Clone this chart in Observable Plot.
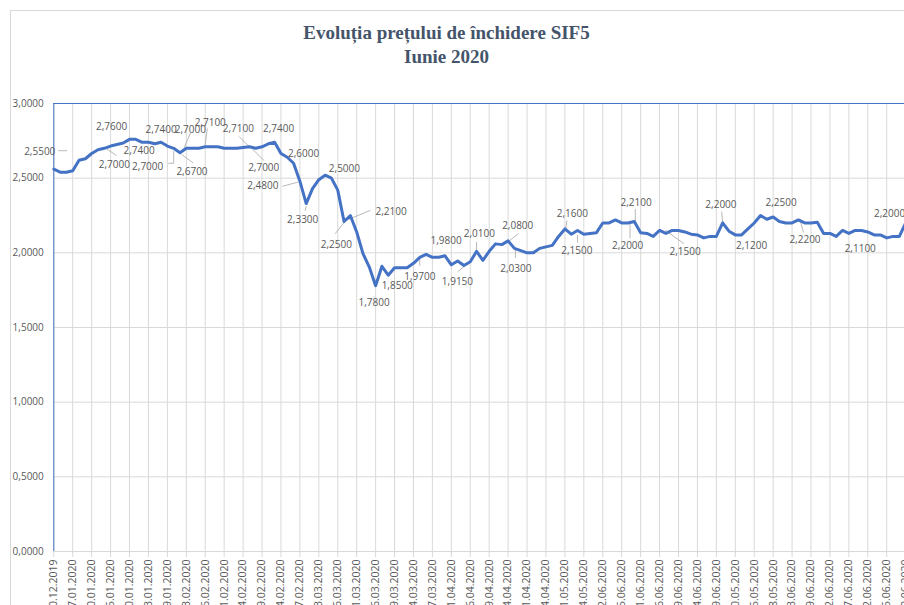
<!DOCTYPE html>
<html><head><meta charset="utf-8">
<script src="https://cdn.jsdelivr.net/npm/d3@7"></script>
<script src="https://cdn.jsdelivr.net/npm/@observablehq/plot@0.6"></script>
<style>
html,body{margin:0;padding:0;background:#fff;overflow:hidden;}
#wrap{position:relative;width:904px;height:605px;overflow:hidden;background:#fff;}
#frame{position:absolute;left:10px;top:10px;width:1000px;height:700px;border-left:1px solid #d9d9d9;border-top:1px solid #d9d9d9;}
#title{position:absolute;left:0;top:21px;width:893px;text-align:center;font-family:"Liberation Serif","Times New Roman",serif;font-weight:bold;font-size:19px;line-height:24px;color:#44546A;}
#chart{position:absolute;left:0;top:70px;width:960px;}
#chart svg{max-width:none !important;}
</style></head>
<body>
<div id="wrap">
  <div id="frame"></div>
  <div id="title">Evoluția prețului de închidere SIF5<br>Iunie 2020</div>
  <div id="chart"></div>
</div>
<script>
// ---- data ----
const tickLabels = [
  "30.12.2019","07.01.2020","10.01.2020","15.01.2020","20.01.2020","23.01.2020","29.01.2020",
  "03.02.2020","06.02.2020","11.02.2020","14.02.2020","19.02.2020","24.02.2020","27.02.2020",
  "03.03.2020","06.03.2020","11.03.2020","16.03.2020","19.03.2020","24.03.2020","27.03.2020",
  "01.04.2020","06.04.2020","09.04.2020","14.04.2020","21.04.2020","24.04.2020","01.05.2020",
  "04.05.2020","02.06.2020","05.06.2020","11.06.2020","16.06.2020","19.06.2020","24.06.2020",
  "29.06.2020","20.05.2020","25.05.2020","28.05.2020","03.06.2020","09.06.2020","12.06.2020",
  "17.06.2020","22.06.2020","25.06.2020","30.06.2020"
];
const closePrices = [
  2.56,2.54,2.54,2.55,2.62,2.63,2.665,2.69,2.70,2.715,
  2.725,2.735,2.76,2.76,2.74,2.74,2.73,2.74,2.715,2.70,
  2.67,2.70,2.70,2.70,2.71,2.71,2.71,2.70,2.70,2.70,
  2.705,2.71,2.70,2.71,2.73,2.74,2.665,2.64,2.60,2.48,
  2.33,2.43,2.49,2.52,2.50,2.42,2.21,2.25,2.14,1.995,
  1.905,1.78,1.91,1.85,1.90,1.90,1.90,1.93,1.97,1.99,
  1.97,1.97,1.98,1.92,1.945,1.915,1.94,2.01,1.95,2.01,
  2.06,2.055,2.08,2.03,2.015,2.00,2.00,2.03,2.04,2.05,
  2.11,2.16,2.125,2.15,2.125,2.13,2.135,2.20,2.20,2.22,
  2.20,2.20,2.21,2.135,2.13,2.11,2.15,2.13,2.15,2.15,
  2.14,2.125,2.12,2.10,2.11,2.11,2.20,2.145,2.12,2.12,
  2.16,2.20,2.25,2.225,2.24,2.21,2.20,2.20,2.22,2.20,
  2.20,2.205,2.13,2.13,2.11,2.15,2.13,2.15,2.15,2.14,
  2.12,2.12,2.10,2.11,2.11,2.20
];
const labeledPoints = [3,8,12,14,17,19,20,21,24,31,32,35,38,39,40,44,46,47,51,53,58,62,65,67,72,73,81,83,91,92,96,106,109,112,118,124,135];
const yTicks = [0,0.5,1,1.5,2,2.5,3];

// ---- label layout (pixel offsets of label centre, and leader polyline) ----
const labelLayout = {
  3:[-33,-19,[[-6,-20],[-14,-20]]], 8:[10,16,[[3,1],[12,7]]], 12:[-18,-13], 14:[-3,8], 17:[0,-13],
  19:[-26,18,[[0,3],[0,15],[-5,15]]], 20:[12,19,[[2,2],[13,10]]], 21:[4,-19,[[-2,-1],[4,-15]]],
  24:[5,-24,[[0,-2],[2,-18]]], 31:[-11,-18,[[0,0],[-10,-10]]], 32:[8,19.5,[[-3,1],[8,12]]],
  35:[4,-14], 38:[10,-9], 39:[-37,5,[[-2,1],[-17,5]]], 40:[-3.5,16,[[0,3],[-1,7]]], 44:[13,-9],
  46:[47,-10,[[2,-1],[26,-11]]], 47:[-14,29,[[-3,3],[-15,18]]], 51:[-1.5,17], 53:[9,11],
  58:[0,19,[[0,2],[0,8]]], 62:[1,-15], 65:[-6.5,16,[[0,1],[-6,6]]], 67:[2.7,-17.7,[[0,-2],[0,-9]]],
  72:[9.6,-14.6,[[1,0],[10,-7]]], 73:[1.4,20,[[1,1],[1,9]]], 81:[7.4,-14.7,[[1,-1],[2,-8]]],
  83:[-0.7,20.6,[[0,5],[0,12]]], 91:[-0.3,23,[[2,1],[2,15]]], 92:[1.7,-18.5,[[1,-1],[1,-12]]],
  96:[25.5,21,[[6,0],[24,13]]], 106:[-1.7,-17.7,[[0,-1],[-1,-11]]], 109:[10,10.4], 112:[20.5,-12.6],
  118:[6.6,20.3,[[2,1],[5,12]]], 124:[24,12], 135:[-16,-9]
};

const W = 960, H = 600, mL = 53.3, mT = 33, mB = 119;
const step = 6.31, nCat = 143;
const mR = W - (mL + nCat * step);
const xOpt = {type: "linear", domain: [0, nCat], range: [mL, W - mR]};
const yOpt = {type: "linear", domain: [0, 3], range: [H - mB, mT]};
const xs = Plot.scale({x: xOpt});
const ys = Plot.scale({y: yOpt});
const fmt = v => v.toFixed(4).replace(".", ",");

const series = closePrices.map((v, i) => ({i, v}));
const labelData = labeledPoints.map(i => {
  const [dx, dy] = labelLayout[i];
  return {
    t: fmt(closePrices[i]),
    x: xs.invert(xs.apply(i) + dx),
    y: ys.invert(ys.apply(closePrices[i]) + dy)
  };
});
const leaderData = [];
labeledPoints.forEach(i => {
  const lead = labelLayout[i][2];
  if (!lead) return;
  const px = xs.apply(i), py = ys.apply(closePrices[i]);
  lead.forEach(([ox, oy]) => leaderData.push({k: i, x: xs.invert(px + ox), y: ys.invert(py + oy)}));
});

const font = '"Open Sans","Noto Sans",sans-serif';
const chart = Plot.plot({
  width: W, height: H,
  marginLeft: mL, marginRight: mR, marginTop: mT, marginBottom: mB,
  x: xOpt, y: yOpt,
  style: {fontFamily: font, background: "transparent", overflow: "visible", maxWidth: "none"},
  marks: [
    Plot.gridY(yTicks, {stroke: "#d9d9d9", strokeOpacity: 1}),
    Plot.gridX(d3.range(0, nCat + 1, 3), {stroke: "#d9d9d9", strokeOpacity: 1}),
    Plot.ruleY([0], {stroke: "#d9d9d9"}),
    Plot.ruleY([3], {stroke: "#4472C4"}),
    Plot.ruleX([0], {stroke: "#4472C4", y1: 0, y2: 3}),
    Plot.axisY(yTicks, {tickFormat: fmt, tickSize: 0, tickPadding: 10, fill: "#595959", fontSize: 10, label: null}),
    Plot.axisX(d3.range(0, nCat + 1, 3), {
      tickFormat: d => tickLabels[d / 3] ?? "", tickRotate: -90, tickSize: 6, tickPadding: 2,
      stroke: "#d9d9d9", strokeOpacity: 1, fill: "#595959", fontSize: 10.5, label: null
    }),
    Plot.line(leaderData, {x: "x", y: "y", z: "k", stroke: "#a6a6a6", strokeWidth: 0.8}),
    Plot.line(series, {x: "i", y: "v", stroke: "#4472C4", strokeWidth: 3, strokeLinejoin: "round", strokeLinecap: "round"}),
    Plot.text(labelData, {x: "x", y: "y", text: "t", fill: "#595959", fontSize: 10, fontFamily: font})
  ]
});
document.getElementById("chart").appendChild(chart);
</script>
</body></html>
